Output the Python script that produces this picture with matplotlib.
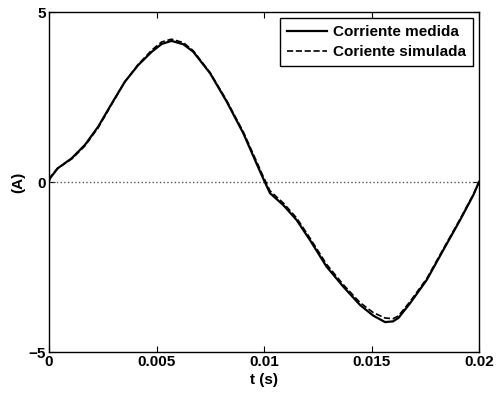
import numpy as np
import matplotlib
matplotlib.use('Agg')
import matplotlib.pyplot as plt

plt.rcParams['font.family'] = ['Liberation Sans', 'DejaVu Sans']
plt.rcParams['font.weight'] = 'bold'

t_med = [0, 0.00005, 0.0004, 0.00106, 0.00167, 0.00229, 0.00292, 0.00353,
         0.00415, 0.00478, 0.00524, 0.0057, 0.00625, 0.00671, 0.00749,
         0.00826, 0.00904, 0.0096, 0.00995, 0.01028, 0.0109, 0.01152,
         0.01214, 0.01291, 0.01369, 0.01447, 0.01508, 0.01563, 0.0160,
         0.01625, 0.01679, 0.01757, 0.01834, 0.01912, 0.01974, 0.0200]
i_med = [0.02, 0.11, 0.40, 0.70, 1.09, 1.63, 2.31, 2.95,
         3.44, 3.83, 4.06, 4.15, 4.05, 3.83, 3.20,
         2.37, 1.43, 0.62, 0.12, -0.33, -0.68, -1.12,
         -1.71, -2.49, -3.08, -3.62, -3.93, -4.12, -4.1,
         -4.0, -3.57, -2.88, -2.00, -1.12, -0.38, 0.0]

# simulated current
t_sim = [0, 0.00005, 0.0004, 0.00106, 0.00167, 0.00229, 0.00292, 0.00353,
         0.00415, 0.00478, 0.00524, 0.0057, 0.00625, 0.00671, 0.00749,
         0.00826, 0.00904, 0.0096, 0.00995, 0.01028, 0.0109, 0.01152,
         0.01214, 0.01291, 0.01369, 0.01447, 0.01508, 0.01563, 0.0160,
         0.01625, 0.01679, 0.01757, 0.01834, 0.01912, 0.01974, 0.0200]
i_sim = [0.08, 0.14, 0.40, 0.68, 1.06, 1.60, 2.29, 2.95,
         3.46, 3.88, 4.12, 4.2, 4.1, 3.86, 3.22,
         2.40, 1.47, 0.68, 0.18, -0.26, -0.62, -1.06,
         -1.65, -2.42, -3.02, -3.55, -3.84, -4.0, -4.02,
         -3.94, -3.52, -2.84, -1.97, -1.09, -0.36, 0.0]

xticks = [0, 0.005, 0.01, 0.015, 0.02]
xticklabels = ['0', '0.005', '0.01', '0.015', '0.02']
yticks = [-5, 0, 5]

fig = plt.figure(figsize=(4.97, 3.93), dpi=100)
ax = fig.add_axes([49/497, 41/393, 430/497, 340/393])

ax.axhline(0, color='#555555', linestyle=':', linewidth=1)
ax.plot(t_med, i_med, 'k-', linewidth=1.6, label='Corriente medida')
ax.plot(t_sim, i_sim, 'k--', linewidth=1.2, label='Coriente simulada')

ax.set_xlim(0, 0.02)
ax.set_ylim(-5, 5)
ax.set_xticks(xticks)
ax.set_xticklabels(xticklabels)
ax.set_yticks(yticks)
ax.tick_params(direction='in', top=True, right=True, length=4, labelsize=11, pad=2)
for lab in ax.get_xticklabels() + ax.get_yticklabels():
    lab.set_fontweight('bold')
for s in ax.spines.values():
    s.set_linewidth(1)

ax.set_xlabel('t (s)', fontsize=11, fontweight='bold', labelpad=3)
ax.set_ylabel('(A)', fontsize=11, fontweight='bold', labelpad=2.5)

leg = ax.legend(loc='upper right', fancybox=False, edgecolor='k', framealpha=1,
                prop={'weight': 'bold', 'size': 11}, handlelength=2.6,
                handletextpad=0.4, borderaxespad=0.4, borderpad=0.45,
                labelspacing=0.4)
leg.get_frame().set_linewidth(1)

plt.savefig('out.png', dpi=100)
